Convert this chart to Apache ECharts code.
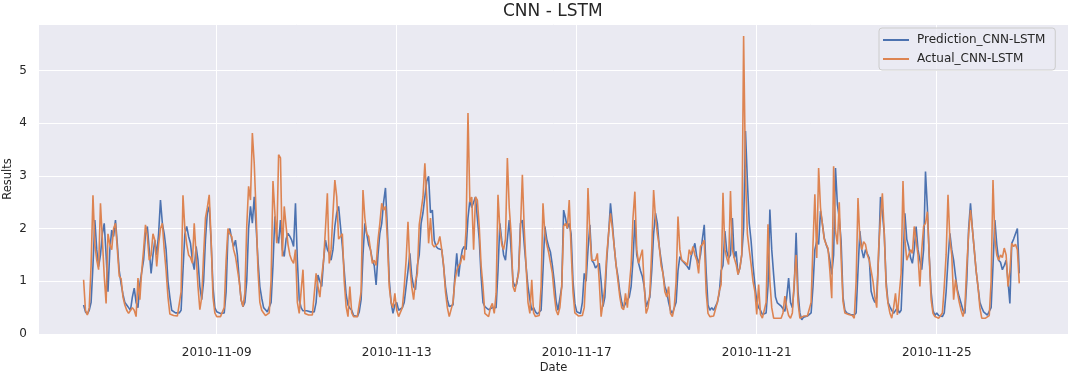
<!DOCTYPE html>
<html>
<head>
<meta charset="utf-8">
<script src="https://cdn.jsdelivr.net/npm/echarts@6/dist/echarts.min.js"></script>
<style>
  html, body { margin: 0; padding: 0; background: #ffffff; }
  #chart { width: 1072px; height: 374px; }
</style>
</head>
<body>
<div id="chart"></div>
<script>
// ---- data (hourly, starting 2010-11-06 01:00) ----
const startTime = '2010-11-06T01:00:00Z';
const xTickLabels = ['2010-11-09', '2010-11-13', '2010-11-17', '2010-11-21', '2010-11-25'];
const yTickValues = [0, 1, 2, 3, 4, 5];
const seriesNames = ['Prediction_CNN-LSTM', 'Actual_CNN-LSTM'];

const prediction = [
  /* 11-06 */ 0.55, 0.42, 0.38, 0.45, 0.6, 1.3, 2.16, 1.6, 1.28, 1.5, 1.9, 2.1, 1.5, 0.8, 1.6, 1.97, 1.85, 2.16, 1.7, 1.2, 0.95, 0.75, 0.6,
  /* 11-07 */ 0.55, 0.5, 0.45, 0.7, 0.87, 0.6, 0.5, 0.95, 0.93, 1.4, 1.9, 2.04, 1.6, 1.15, 1.5, 1.78, 1.5, 1.9, 2.54, 2.1, 1.9, 1.6, 1.0, 0.7,
  /* 11-08 */ 0.45, 0.42, 0.4, 0.4, 0.4, 0.45, 1.2, 1.9, 2.04, 1.85, 1.72, 1.4, 1.22, 1.66, 1.4, 0.9, 0.65, 1.0, 1.8, 2.3, 2.42, 1.75, 0.9, 0.5,
  /* 11-09 */ 0.42, 0.4, 0.39, 0.38, 0.4, 0.8, 1.9, 2.0, 1.8, 1.66, 1.78, 1.5, 1.03, 0.65, 0.52, 0.6, 1.0, 2.0, 2.42, 2.1, 2.6, 2.04, 1.4, 0.9,
  /* 11-10 */ 0.68, 0.5, 0.46, 0.42, 0.42, 0.6, 1.3, 2.23, 1.9, 1.72, 2.16, 1.6, 1.47, 1.8, 1.91, 1.85, 1.78, 1.66, 2.48, 1.4, 0.65, 0.5, 0.44, 0.44,
  /* 11-11 */ 0.44, 0.42, 0.42, 0.42, 0.42, 0.6, 1.12, 1.0, 0.9, 1.4, 1.78, 1.6, 1.53, 1.4, 1.6, 2.04, 2.3, 2.42, 2.04, 1.66, 1.2, 0.75, 0.55, 0.49,
  /* 11-12 */ 0.45, 0.35, 0.33, 0.33, 0.42, 0.65, 1.5, 2.1, 1.9, 1.7, 1.6, 1.4, 1.3, 0.93, 1.5, 1.91, 2.1, 2.5, 2.77, 2.0, 1.03, 0.6, 0.39, 0.55,
  /* 11-13 */ 0.6, 0.45, 0.42, 0.5, 0.6, 0.9, 1.2, 1.53, 1.1, 0.9, 0.84, 1.3, 1.5, 2.1, 2.3, 2.6, 2.9, 2.99, 2.3, 2.35, 1.78, 1.66, 1.62, 1.6,
  /* 11-14 */ 1.6, 1.28, 0.9, 0.65, 0.52, 0.5, 0.55, 1.09, 1.53, 1.09, 1.4, 1.6, 1.66, 1.6, 2.2, 2.54, 2.4, 2.4, 2.6, 2.6, 1.8, 1.09, 0.6, 0.52,
  /* 11-15 */ 0.52, 0.46, 0.44, 0.5, 0.5, 0.5, 1.2, 2.1, 1.78, 1.5, 1.4, 1.8, 2.16, 1.6, 1.0, 0.9, 0.95, 1.2, 2.1, 2.16, 1.7, 1.28, 0.9, 0.65,
  /* 11-16 */ 0.45, 0.5, 0.42, 0.38, 0.38, 0.45, 1.2, 2.04, 1.8, 1.66, 1.55, 1.3, 1.0, 0.62, 0.45, 0.45, 0.9, 2.35, 2.2, 2.0, 2.1, 1.9, 1.0, 0.58,
  /* 11-17 */ 0.42, 0.4, 0.39, 0.6, 1.15, 1.0, 1.6, 2.07, 1.4, 1.35, 1.25, 1.22, 1.34, 1.0, 0.52, 0.7, 1.4, 1.91, 2.48, 2.1, 1.66, 1.3, 1.09, 0.8,
  /* 11-18 */ 0.6, 0.5, 0.58, 0.6, 0.7, 0.9, 1.4, 2.16, 1.5, 1.34, 1.2, 1.09, 0.9, 0.52, 0.5, 0.7, 1.2, 1.9, 2.29, 2.1, 1.66, 1.4, 1.15, 0.9,
  /* 11-19 */ 0.8, 0.6, 0.45, 0.39, 0.4, 0.6, 1.2, 1.47, 1.4, 1.36, 1.34, 1.28, 1.22, 1.47, 1.5, 1.72, 1.47, 1.34, 1.5, 1.8, 2.07, 1.2, 0.55, 0.45,
  /* 11-20 */ 0.5, 0.45, 0.43, 0.6, 0.77, 1.2, 1.3, 1.95, 1.57, 1.44, 1.5, 2.2, 1.44, 1.57, 1.13, 1.25, 1.5, 2.0, 3.85, 2.9, 2.1, 1.76, 1.3, 0.94,
  /* 11-21 */ 0.62, 0.5, 0.45, 0.37, 0.35, 0.4, 0.9, 2.36, 1.6, 1.13, 0.7, 0.59, 0.56, 0.53, 0.48, 0.43, 0.7, 1.06, 0.6, 0.5, 0.9, 1.92, 0.81, 0.4,
  /* 11-22 */ 0.27, 0.32, 0.34, 0.34, 0.34, 0.4, 0.9, 1.6, 1.76, 1.7, 2.33, 2.1, 1.82, 1.7, 1.6, 1.4, 1.13, 1.5, 3.15, 2.46, 2.2, 1.76, 0.7, 0.45,
  /* 11-23 */ 0.4, 0.38, 0.37, 0.37, 0.36, 0.4, 1.2, 1.95, 1.6, 1.44, 1.6, 1.57, 1.44, 0.81, 0.68, 0.6, 0.7, 1.5, 2.6, 2.3, 1.91, 1.0, 0.6, 0.52,
  /* 11-24 */ 0.45, 0.39, 0.4, 0.5, 0.4, 0.45, 1.3, 2.29, 1.8, 1.66, 1.45, 1.34, 1.6, 2.04, 1.6, 1.4, 1.22, 1.6, 3.08, 2.4, 1.47, 0.8, 0.45, 0.35,
  /* 11-25 */ 0.4, 0.35, 0.33, 0.33, 0.4, 0.8, 1.4, 1.91, 1.6, 1.4, 1.1, 0.84, 0.7, 0.58, 0.45, 0.39, 1.0, 2.0, 2.48, 2.0, 1.6, 1.2, 0.9, 0.6,
  /* 11-26 */ 0.5, 0.42, 0.39, 0.36, 0.35, 0.5, 1.3, 2.16, 1.7, 1.4, 1.36, 1.22, 1.3, 1.4, 1.0, 0.58, 1.72, 1.8, 1.9, 2.0, 1.15
];

const actual = [
  /* 11-06 */ 1.03, 0.45, 0.36, 0.5, 1.3, 2.63, 1.7, 1.4, 1.22, 2.48, 1.8, 1.1, 0.58, 1.9, 1.7, 1.6, 2.0, 2.1, 1.6, 1.1, 1.05, 0.7, 0.55,
  /* 11-07 */ 0.45, 0.39, 0.4, 0.5, 0.45, 0.33, 1.06, 0.65, 1.2, 1.6, 2.07, 1.85, 1.4, 1.5, 1.9, 1.78, 1.28, 1.7, 2.0, 2.1, 1.6, 1.2, 0.7, 0.38,
  /* 11-08 */ 0.36, 0.35, 0.36, 0.34, 0.36, 0.8, 2.63, 2.0, 1.7, 1.5, 1.45, 1.34, 2.1, 1.5, 0.9, 0.46, 0.7, 1.5, 2.2, 2.4, 2.64, 1.8, 0.7, 0.4,
  /* 11-09 */ 0.33, 0.33, 0.33, 0.35, 0.5, 1.4, 2.0, 1.9, 1.85, 1.6, 1.47, 1.45, 1.0, 0.65, 0.52, 0.77, 2.04, 2.8, 2.54, 3.81, 3.24, 2.3, 1.2, 0.6,
  /* 11-10 */ 0.45, 0.4, 0.35, 0.33, 0.4, 1.03, 2.9, 2.3, 1.72, 3.4, 3.34, 1.47, 2.42, 2.04, 1.7, 1.5, 1.4, 1.34, 1.6, 0.6, 0.39, 0.4, 1.22, 0.39,
  /* 11-11 */ 0.36, 0.36, 0.35, 0.36, 0.38, 1.15, 0.9, 0.7, 1.1, 1.4, 2.0, 2.67, 1.34, 1.6, 2.3, 2.92, 2.6, 1.8, 1.78, 1.9, 1.0, 0.52, 0.33, 0.9,
  /* 11-12 */ 0.4, 0.33, 0.33, 0.33, 0.35, 0.8, 2.73, 2.2, 1.9, 1.85, 1.6, 1.34, 1.4, 1.3, 1.78, 2.1, 2.48, 2.35, 2.42, 1.8, 0.9, 0.6, 0.5, 0.77,
  /* 11-13 */ 0.45, 0.33, 0.35, 0.5, 0.9, 1.4, 2.13, 1.3, 0.9, 0.65, 1.0, 1.15, 2.07, 2.1, 2.6, 3.24, 2.6, 1.72, 2.2, 1.7, 1.65, 1.65, 1.72, 1.85,
  /* 11-14 */ 1.6, 1.3, 0.8, 0.5, 0.33, 0.35, 0.6, 1.0, 1.2, 1.3, 1.34, 1.5, 1.4, 2.0, 4.19, 2.5, 2.6, 1.6, 2.6, 2.54, 2.04, 1.3, 0.9, 0.39,
  /* 11-15 */ 0.36, 0.33, 0.5, 0.58, 0.39, 0.77, 2.64, 2.0, 1.7, 1.6, 1.8, 3.34, 2.4, 1.9, 0.9, 0.8, 1.0, 1.15, 2.0, 3.02, 2.0, 1.28, 0.6, 0.39,
  /* 11-16 */ 1.03, 0.4, 0.33, 0.33, 0.35, 0.9, 2.48, 1.9, 1.7, 1.55, 1.35, 1.15, 0.75, 0.45, 0.36, 0.5, 0.9, 2.04, 2.1, 2.0, 2.54, 1.6, 0.8, 0.4,
  /* 11-17 */ 0.39, 0.34, 0.33, 0.35, 0.5, 1.2, 2.77, 1.9, 1.4, 1.42, 1.4, 1.53, 1.0, 0.33, 0.6, 0.9, 1.5, 1.91, 2.29, 2.0, 1.66, 1.3, 1.0, 0.7,
  /* 11-18 */ 0.5, 0.46, 0.77, 0.5, 0.9, 1.3, 2.2, 2.7, 1.6, 1.34, 1.34, 1.6, 0.9, 0.39, 0.5, 0.77, 1.6, 2.73, 2.2, 1.9, 1.66, 1.3, 1.15, 0.8,
  /* 11-19 */ 0.7, 0.9, 0.39, 0.33, 0.5, 1.0, 2.23, 1.6, 1.4, 1.4, 1.35, 1.3, 1.6, 1.5, 1.66, 1.5, 1.4, 1.15, 1.66, 1.7, 1.78, 0.8, 0.39, 0.33,
  /* 11-20 */ 0.36, 0.34, 0.34, 0.6, 0.81, 0.94, 2.68, 1.6, 1.44, 1.32, 2.71, 1.6, 1.44, 1.32, 1.13, 1.25, 1.5, 5.65, 3.0, 1.9, 1.6, 1.32, 1.0, 0.81,
  /* 11-21 */ 0.37, 0.94, 0.37, 0.3, 0.3, 0.6, 2.08, 1.0, 0.5, 0.3, 0.32, 0.3, 0.32, 0.3, 0.4, 0.72, 0.5, 0.35, 0.3, 0.4, 1.0, 1.5, 0.6, 0.3,
  /* 11-22 */ 0.3, 0.34, 0.34, 0.34, 0.34, 0.6, 1.7, 2.65, 1.44, 3.15, 2.4, 2.08, 1.8, 1.7, 1.63, 1.2, 0.68, 3.18, 1.95, 1.7, 2.5, 1.44, 0.62, 0.4,
  /* 11-23 */ 0.37, 0.37, 0.36, 0.35, 0.3, 1.0, 2.58, 1.8, 1.6, 1.75, 1.7, 1.5, 1.4, 1.2, 1.0, 0.7, 0.5, 1.6, 2.2, 2.67, 1.91, 0.9, 0.58, 0.4,
  /* 11-24 */ 0.3, 0.5, 0.77, 0.36, 0.35, 1.15, 2.9, 1.8, 1.4, 1.5, 1.6, 1.53, 2.04, 2.04, 1.5, 0.9, 1.6, 2.04, 2.1, 2.32, 1.47, 0.65, 0.39, 0.33,
  /* 11-25 */ 0.3, 0.3, 0.3, 0.4, 0.9, 1.5, 2.64, 1.8, 1.5, 0.65, 1.03, 0.8, 0.6, 0.45, 0.33, 0.5, 1.28, 1.9, 2.35, 2.0, 1.6, 1.2, 0.9, 0.5,
  /* 11-26 */ 0.3, 0.3, 0.3, 0.32, 0.35, 1.0, 2.92, 1.8, 1.5, 1.4, 1.5, 1.45, 1.63, 1.5, 0.9, 1.2, 1.72, 1.66, 1.7, 1.6, 0.96
];

// ---- build ----
const HOUR = 3600 * 1000;
const t0 = Date.parse(startTime);
const toPairs = arr => arr.map((v, i) => [t0 + i * HOUR, v]);
const tickVals = xTickLabels.map(s => Date.parse(s + 'T00:00:00Z'));
const xMin = Date.parse('2010-11-05T01:13:00Z');
const xMax = Date.parse('2010-11-27T22:00:00Z');
const pad = n => (n < 10 ? '0' : '') + n;
const fmtDate = v => {
  const d = new Date(v);
  return d.getUTCFullYear() + '-' + pad(d.getUTCMonth() + 1) + '-' + pad(d.getUTCDate());
};

const FONT = 'DejaVu Sans';
const TXT = '#262626';

const chart = echarts.init(document.getElementById('chart'), null, { renderer: 'canvas' });
chart.setOption({
  animation: false,
  backgroundColor: '#ffffff',
  textStyle: { fontFamily: FONT, color: TXT },
  title: {
    text: 'CNN - LSTM',
    left: 503, top: 3, padding: 0,
    textStyle: { fontFamily: FONT, fontSize: 17, fontWeight: 'normal', color: TXT }
  },
  legend: {
    orient: 'vertical',
    left: 879, top: 28,
    padding: [5, 10, 4, 4],
    itemWidth: 26, itemHeight: 2,
    itemGap: 5,
    icon: 'rect',
    backgroundColor: 'rgba(234,234,242,0.8)',
    borderColor: '#cccccc', borderWidth: 1, borderRadius: 3,
    textStyle: { fontFamily: FONT, fontSize: 12, color: TXT, lineHeight: 14, padding: [0, 0, 0, 3] },
    data: seriesNames
  },
  grid: {
    left: 39, right: 4, top: 24, bottom: 40,
    outerBoundsMode: 'none',
    containLabel: false,
    show: true, backgroundColor: '#EAEAF2', borderWidth: 0
  },
  xAxis: {
    type: 'value',
    min: xMin, max: xMax,
    name: 'Date', nameLocation: 'middle', nameGap: 28, nameMoveOverlap: false,
    nameTextStyle: { fontFamily: FONT, fontSize: 11.5, color: TXT },
    axisLine: { show: false },
    axisTick: { show: false, customValues: tickVals },
    axisLabel: { customValues: tickVals, formatter: fmtDate, fontFamily: FONT, fontSize: 12, color: TXT, margin: 13 },
    splitLine: { show: true, lineStyle: { color: '#ffffff', width: 1 } }
  },
  yAxis: {
    type: 'value',
    min: 0, max: 5.88, interval: 1,
    name: 'Results', nameLocation: 'middle', nameGap: 25, nameMoveOverlap: false,
    nameTextStyle: { fontFamily: FONT, fontSize: 11.5, color: TXT },
    axisLine: { show: false },
    axisTick: { show: false },
    axisLabel: { showMaxLabel: false, fontFamily: FONT, fontSize: 12, color: TXT, margin: 12 },
    splitLine: { show: true, lineStyle: { color: '#ffffff', width: 1 } }
  },
  series: [
    {
      name: seriesNames[0], type: 'line', data: toPairs(prediction),
      showSymbol: false, symbol: 'none',
      lineStyle: { color: '#4C72B0', width: 1.6 }, itemStyle: { color: '#4C72B0' }, z: 2
    },
    {
      name: seriesNames[1], type: 'line', data: toPairs(actual),
      showSymbol: false, symbol: 'none',
      lineStyle: { color: '#DD8452', width: 1.6 }, itemStyle: { color: '#DD8452' }, z: 3
    }
  ]
});
</script>
</body>
</html>
